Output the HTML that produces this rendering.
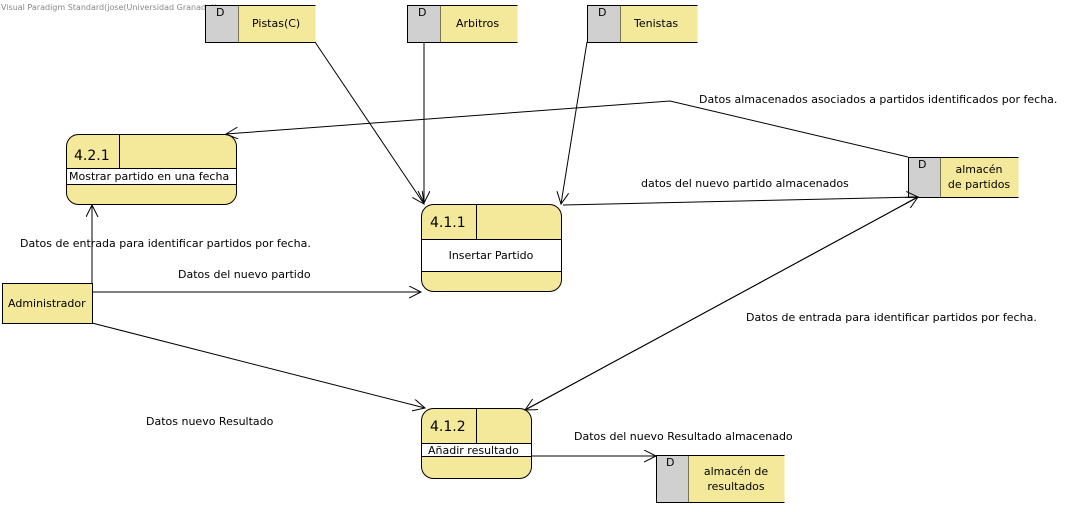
<!DOCTYPE html>
<html><head><meta charset="utf-8"><style>
body{margin:0;background:#fff;width:1073px;height:507px;overflow:hidden}
svg{font-family:"DejaVu Sans","Liberation Sans",sans-serif}
</style></head><body>
<svg width="1073" height="507" viewBox="0 0 1073 507" xmlns="http://www.w3.org/2000/svg">
<defs><marker id="a" markerWidth="14" markerHeight="14" refX="12" refY="6" orient="auto" markerUnits="userSpaceOnUse"><path d="M0,0 L12,6 L0,12" fill="none" stroke="#000" stroke-width="1"/></marker></defs>
<text x="1" y="10" font-size="8" fill="#888">Visual Paradigm Standard(jose(Universidad Granada))</text>
<g stroke="#000" stroke-width="1">
<!-- stores -->
<rect x="205.5" y="5.5" width="33" height="37" fill="#d0d0d0"/><rect x="238.5" y="5.5" width="77" height="37" fill="#f4e99b" stroke="none"/><path d="M238.5,5.5H315.5M238.5,42.5H315.5" fill="none"/>
<rect x="407.5" y="5.5" width="33" height="37" fill="#d0d0d0"/><rect x="440.5" y="5.5" width="77" height="37" fill="#f4e99b" stroke="none"/><path d="M440.5,5.5H517.5M440.5,42.5H517.5" fill="none"/>
<rect x="587.5" y="5.5" width="33" height="37" fill="#d0d0d0"/><rect x="620.5" y="5.5" width="77" height="37" fill="#f4e99b" stroke="none"/><path d="M620.5,5.5H697.5M620.5,42.5H697.5" fill="none"/>
<rect x="908.5" y="157.5" width="32" height="40" fill="#d0d0d0"/><rect x="940.5" y="157.5" width="78" height="40" fill="#f4e99b" stroke="none"/><path d="M940.5,157.5H1018.5M940.5,197.5H1018.5" fill="none"/>
<rect x="656.5" y="455.5" width="32" height="47" fill="#d0d0d0"/><rect x="688.5" y="455.5" width="96" height="47" fill="#f4e99b" stroke="none"/><path d="M688.5,455.5H784.5M688.5,502.5H784.5" fill="none"/>
<!-- processes -->
<rect x="66.5" y="134.5" width="170" height="70" rx="12" fill="#f4e99b"/><rect x="66.5" y="168.5" width="170" height="16" fill="#fff"/><path d="M119.5,134.5V168.5" fill="none"/>
<rect x="421.5" y="204.5" width="140" height="87" rx="12" fill="#f4e99b"/><rect x="421.5" y="239.5" width="140" height="32" fill="#fff"/><path d="M476.5,204.5V239.5" fill="none"/>
<rect x="421.5" y="408.5" width="110" height="70" rx="12" fill="#f4e99b"/><rect x="421.5" y="443.5" width="110" height="13" fill="#fff"/><path d="M476.5,408.5V443.5" fill="none"/>
<rect x="2.5" y="283.5" width="90" height="40" fill="#f4e99b"/>
<!-- flows -->
<g fill="none">
<line x1="315" y1="42" x2="424" y2="204" marker-end="url(#a)"/>
<line x1="424" y1="42" x2="424" y2="203" marker-end="url(#a)"/>
<line x1="587" y1="42" x2="561" y2="204" marker-end="url(#a)"/>
<polyline points="908,157 670,101 226,134" marker-end="url(#a)"/>
<line x1="563" y1="205" x2="918" y2="197" marker-end="url(#a)"/>
<line x1="525" y1="410" x2="918" y2="197" marker-end="url(#a)"/>
<line x1="918" y1="197" x2="525" y2="410" marker-end="url(#a)"/>
<line x1="92" y1="283" x2="92" y2="205" marker-end="url(#a)"/>
<line x1="92" y1="292" x2="421" y2="292" marker-end="url(#a)"/>
<line x1="92" y1="323" x2="425" y2="408" marker-end="url(#a)"/>
<line x1="531" y1="456" x2="656" y2="456" marker-end="url(#a)"/>
</g></g>
<g font-size="11" fill="#000">
<text x="216" y="16">D</text><text x="252" y="27">Pistas(C)</text>
<text x="418" y="16">D</text><text x="456" y="27">Arbitros</text>
<text x="598" y="16">D</text><text x="634" y="27">Tenistas</text>
<text x="918" y="168">D</text><text x="979" y="173" text-anchor="middle">almacén</text><text x="979" y="188" text-anchor="middle">de partidos</text>
<text x="666" y="466">D</text><text x="736" y="475" text-anchor="middle">almacén de</text><text x="736" y="490" text-anchor="middle">resultados</text>
<text x="74" y="160" font-size="14">4.2.1</text><text x="69" y="180">Mostrar partido en una fecha</text>
<text x="430" y="227" font-size="14">4.1.1</text><text x="491" y="259" text-anchor="middle">Insertar Partido</text>
<text x="430" y="431" font-size="14">4.1.2</text><text x="428" y="454">Añadir resultado</text>
<text x="8" y="307">Administrador</text>
<text x="699" y="103">Datos almacenados asociados a partidos identificados por fecha.</text>
<text x="641" y="187">datos del nuevo partido almacenados</text>
<text x="20" y="247">Datos de entrada para identificar partidos por fecha.</text>
<text x="178" y="278">Datos del nuevo partido</text>
<text x="746" y="321">Datos de entrada para identificar partidos por fecha.</text>
<text x="146" y="425">Datos nuevo Resultado</text>
<text x="574" y="440">Datos del nuevo Resultado almacenado</text>
</g>
</svg>
</body></html>
